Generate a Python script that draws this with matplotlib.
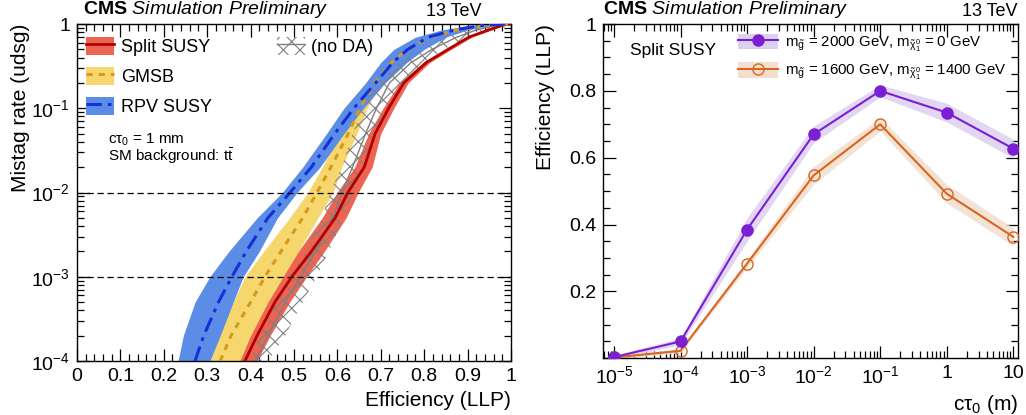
import numpy as np
import matplotlib
matplotlib.use("Agg")
import matplotlib.pyplot as plt
from matplotlib.patches import Patch
from matplotlib.lines import Line2D
from matplotlib.legend_handler import HandlerTuple
from matplotlib.ticker import FixedLocator, FuncFormatter, LogLocator, MultipleLocator, NullFormatter

plt.rcParams["font.family"] = ["Liberation Sans", "DejaVu Sans"]
plt.rcParams["mathtext.fontset"] = "custom"
plt.rcParams["mathtext.rm"] = "Liberation Sans"
plt.rcParams["mathtext.it"] = "Liberation Sans:italic"
plt.rcParams["mathtext.bf"] = "Liberation Sans:bold"
plt.rcParams["mathtext.sf"] = "Liberation Sans"
plt.rcParams["mathtext.default"] = "regular"
plt.rcParams["hatch.linewidth"] = 0.8

# ---- left panel: mistag rate vs LLP efficiency ----
mistag = [1e-4, 2e-4, 5e-4, 1e-3, 2e-3, 5e-3, 1e-2, 2e-2, 5e-2, 0.1, 0.2, 0.35, 0.5, 0.7, 0.85, 0.96, 0.99, 1.0]

split_eff = [0.387, 0.415, 0.456, 0.495, 0.54, 0.595, 0.624, 0.662, 0.687, 0.718, 0.753, 0.805, 0.855, 0.903, 0.948, 0.978, 0.99, 1.0]
split_lo = [0.371, 0.39, 0.425, 0.46, 0.51, 0.565, 0.599, 0.64, 0.672, 0.705, 0.743, 0.797, 0.848, 0.896, 0.94, 0.973, 0.986, 1.0]
split_hi = [0.415, 0.445, 0.49, 0.529, 0.57, 0.62, 0.648, 0.68, 0.70, 0.73, 0.763, 0.813, 0.862, 0.91, 0.955, 0.984, 0.994, 1.0]

gmsb_eff = [0.33, 0.355, 0.40, 0.433, 0.47, 0.52, 0.553, 0.585, 0.625, 0.652, 0.685, 0.725, 0.76, 0.815, 0.875, 0.94, 0.975, 1.0]
gmsb_lo = [0.306, 0.325, 0.36, 0.387, 0.43, 0.49, 0.532, 0.565, 0.605, 0.632, 0.665, 0.705, 0.74, 0.795, 0.855, 0.92, 0.96, 1.0]
gmsb_hi = [0.375, 0.40, 0.44, 0.475, 0.51, 0.555, 0.59, 0.61, 0.645, 0.668, 0.70, 0.745, 0.78, 0.835, 0.895, 0.955, 0.985, 1.0]

rpv_eff = [0.272, 0.292, 0.326, 0.357, 0.39, 0.44, 0.491, 0.54, 0.594, 0.638, 0.688, 0.728, 0.762, 0.81, 0.87, 0.93, 0.97, 1.0]
rpv_lo = [0.233, 0.245, 0.272, 0.306, 0.35, 0.415, 0.473, 0.52, 0.575, 0.615, 0.665, 0.70, 0.73, 0.78, 0.84, 0.90, 0.95, 1.0]
rpv_hi = [0.306, 0.33, 0.36, 0.383, 0.42, 0.462, 0.507, 0.56, 0.615, 0.66, 0.71, 0.76, 0.80, 0.85, 0.90, 0.95, 0.985, 1.0]

noda_eff = [0.41, 0.44, 0.48, 0.515, 0.55, 0.59, 0.61, 0.635, 0.665, 0.69, 0.72, 0.77, 0.818, 0.875, 0.92, 0.962, 0.985, 1.0]
noda_lo = [0.40, 0.42, 0.46, 0.49, 0.525, 0.565, 0.583, 0.61, 0.635, 0.659, 0.69, 0.74, 0.79, 0.85, 0.90, 0.95, 0.98, 1.0]
noda_hi = [0.44, 0.48, 0.52, 0.552, 0.58, 0.615, 0.636, 0.66, 0.69, 0.717, 0.75, 0.80, 0.845, 0.90, 0.94, 0.975, 0.99, 1.0]

# ---- right panel: efficiency vs c tau ----
ctau = [1e-5, 1e-4, 1e-3, 1e-2, 1e-1, 1.0, 10.0]
eff_2000_0 = [0.003, 0.05, 0.385, 0.67, 0.80, 0.735, 0.627]
err_2000_0 = [0.006, 0.01, 0.035, 0.025, 0.018, 0.028, 0.028]
eff_1600_1400 = [0.002, 0.022, 0.283, 0.547, 0.70, 0.492, 0.363]
err_1600_1400 = [0.005, 0.006, 0.012, 0.027, 0.02, 0.028, 0.027]

red_band, red_line = "#ec6452", "#b40000"
yel_band, yel_line = "#f5d76e", "#d49a1c"
blu_band, blu_line = "#5b8de6", "#1430d8"
hatch_col = "#7f7f7f"
pur, pur_band = "#7c1fd3", "#dcd0f0"
ora, ora_band = "#d9661e", "#f2dfcf"

fig = plt.figure(figsize=(10.26, 4.15), dpi=100)
ax1 = fig.add_axes([0.075, 0.130, 0.423, 0.812])
ax2 = fig.add_axes([0.5877, 0.137, 0.4045, 0.805])

# left panel bands
ax1.fill_betweenx(mistag, split_lo, split_hi, color=red_band, lw=0, zorder=2)
ax1.fill_betweenx(mistag, gmsb_lo, gmsb_hi, color=yel_band, lw=0, zorder=2.1)
ax1.fill_betweenx(mistag, rpv_lo, rpv_hi, color=blu_band, lw=0, zorder=2.2)
ax1.fill_betweenx(mistag, noda_lo, noda_hi, facecolor="none", edgecolor=hatch_col,
                  hatch="xx", lw=0, zorder=2.3)
ax1.plot(noda_eff, mistag, color=hatch_col, lw=1.0, zorder=2.4)
ax1.plot(split_eff, mistag, color=red_line, lw=2.0, zorder=3)
ax1.plot(gmsb_eff, mistag, color=yel_line, lw=2.2, ls=(0, (2, 2)), zorder=3)
ax1.plot(rpv_eff, mistag, color=blu_line, lw=2.2, ls=(0, (5, 2, 1.2, 2)), zorder=3)
for lvl in [1e-2, 1e-3]:
    ax1.axhline(lvl, color="black", lw=0.9, ls=(0, (5, 3)), zorder=4)

ax1.set_xlim(0, 1)
ax1.set_yscale("log")
ax1.set_ylim(1e-4, 1)
ax1.xaxis.set_major_locator(MultipleLocator(0.1))
ax1.xaxis.set_minor_locator(MultipleLocator(0.02))
ax1.xaxis.set_major_formatter(FuncFormatter(lambda v, _: "%g" % round(v, 2)))
ax1.yaxis.set_major_locator(FixedLocator([1e-4, 1e-3, 1e-2, 1e-1, 1]))
ax1.yaxis.set_minor_locator(LogLocator(base=10, subs=np.arange(2, 10)))
ax1.yaxis.set_minor_formatter(NullFormatter())
ax1.yaxis.set_major_formatter(FuncFormatter(
    lambda v, _: "1" if v == 1 else r"$10^{%d}$" % round(np.log10(v))))
ax1.set_xlabel("Efficiency (LLP)", loc="right", fontsize=15)
ax1.set_ylabel("Mistag rate (udsg)", loc="top", fontsize=15, labelpad=1)

overlay = {tuple: HandlerTuple(ndivide=1, pad=0)}
h_split = (Patch(fc=red_band, lw=0), Line2D([], [], color=red_line, lw=2.0))
h_gmsb = (Patch(fc=yel_band, lw=0), Line2D([], [], color=yel_line, lw=2.2, ls=(0, (2, 2))))
h_rpv = (Patch(fc=blu_band, lw=0), Line2D([], [], color=blu_line, lw=2.2, ls=(0, (5, 2, 1.2, 2))))
leg1 = ax1.legend([h_split, h_gmsb, h_rpv], ["Split SUSY", "GMSB", "RPV SUSY"],
                  handler_map=overlay, loc="upper left",
                  bbox_to_anchor=(0.022, 0.962), frameon=False, fontsize=13,
                  handlelength=1.55, handleheight=1.15, labelspacing=0.6, handletextpad=0.35,
                  borderaxespad=0.0, borderpad=0.0)
ax1.add_artist(leg1)
h_noda = (Patch(fc="none", ec=hatch_col, hatch="xx", lw=0), Line2D([], [], color=hatch_col, lw=1))
ax1.legend([h_noda], ["(no DA)"], handler_map=overlay,
           loc="upper left", bbox_to_anchor=(0.46, 0.962), frameon=False, fontsize=13,
           handlelength=1.55, handleheight=1.15, handletextpad=0.35, borderaxespad=0.0,
           borderpad=0.0)
ax1.text(0.071, 0.656, r"c$\tau_0$ = 1 mm", transform=ax1.transAxes, fontsize=11, va="center")
ax1.text(0.071, 0.608, r"SM background: t$\bar{\mathrm{t}}$", transform=ax1.transAxes,
         fontsize=11, va="center")

# right panel
ax2.fill_between(ctau, np.subtract(eff_2000_0, err_2000_0), np.add(eff_2000_0, err_2000_0),
                 color=pur_band, lw=0, alpha=0.85, zorder=2)
ax2.fill_between(ctau, np.subtract(eff_1600_1400, err_1600_1400), np.add(eff_1600_1400, err_1600_1400),
                 color=ora_band, lw=0, alpha=0.85, zorder=2)
ax2.plot(ctau, eff_1600_1400, color=ora, lw=1.5, marker="o", ms=8, mfc="none", mec=ora,
         mew=1.0, zorder=3)
ax2.plot(ctau, eff_2000_0, color=pur, lw=1.5, marker="o", ms=8, mfc=pur, mec=pur, zorder=4)
ax2.set_xscale("log")
ax2.set_xlim(10 ** -5.165, 10 ** 1.07)
ax2.set_ylim(0, 1)
ax2.xaxis.set_major_locator(FixedLocator([1e-5, 1e-4, 1e-3, 1e-2, 1e-1, 1, 10]))
ax2.xaxis.set_minor_locator(LogLocator(base=10, subs=np.arange(2, 10)))
ax2.xaxis.set_minor_formatter(NullFormatter())
ax2.xaxis.set_major_formatter(FuncFormatter(
    lambda v, _: "1" if v == 1 else ("10" if v == 10 else r"$10^{%d}$" % round(np.log10(v)))))
ax2.yaxis.set_major_locator(MultipleLocator(0.2))
ax2.yaxis.set_minor_locator(MultipleLocator(0.05))
ax2.yaxis.set_major_formatter(FuncFormatter(lambda v, _: "" if v < 0.01 else "%g" % round(v, 2)))
ax2.set_xlabel(r"c$\tau_0$ (m)", loc="right", fontsize=15)
ax2.set_ylabel("Efficiency (LLP)", loc="top", fontsize=15, labelpad=10)
ax2.text(0.065, 0.922, "Split SUSY", transform=ax2.transAxes, fontsize=12.5, va="center")

h_p = (Patch(fc=pur_band, lw=0), Line2D([], [], color=pur, lw=1.5, marker="o", ms=8))
h_o = (Patch(fc=ora_band, lw=0), Line2D([], [], color=ora, lw=1.5, marker="o", ms=8, mfc="none"))
ax2.legend([h_p, h_o],
           [r"m$_{\tilde{g}}$ = 2000 GeV, m$_{\tilde{\chi}^0_1}$ = 0 GeV",
            r"m$_{\tilde{g}}$ = 1600 GeV, m$_{\tilde{\chi}^0_1}$ = 1400 GeV"],
           handler_map=overlay, loc="upper left",
           bbox_to_anchor=(0.325, 0.97), frameon=False, fontsize=10.8,
           handlelength=2.67, handleheight=1.2, labelspacing=0.55, handletextpad=0.45,
           borderaxespad=0.0, borderpad=0.0)

for ax in (ax1, ax2):
    ax.tick_params(which="both", direction="in", top=True, right=True, labelsize=14, width=0.9)
    ax.tick_params(which="major", length=9, pad=5)
    ax.tick_params(which="minor", length=5)
    for s in ax.spines.values():
        s.set_linewidth(1.0)

ax1.text(0.014, 1.012, r"$\mathbf{CMS}$ $\mathit{Simulation\ Preliminary}$", transform=ax1.transAxes,
         fontsize=14, va="bottom", ha="left")
ax1.text(0.933, 1.012, "13 TeV", transform=ax1.transAxes, fontsize=13, va="bottom", ha="right")
ax2.text(0.0, 1.012, r"$\mathbf{CMS}$ $\mathit{Simulation\ Preliminary}$", transform=ax2.transAxes,
         fontsize=14, va="bottom", ha="left")
ax2.text(1.0, 1.012, "13 TeV", transform=ax2.transAxes, fontsize=13, va="bottom", ha="right")

fig.savefig("out.png", dpi=100)
